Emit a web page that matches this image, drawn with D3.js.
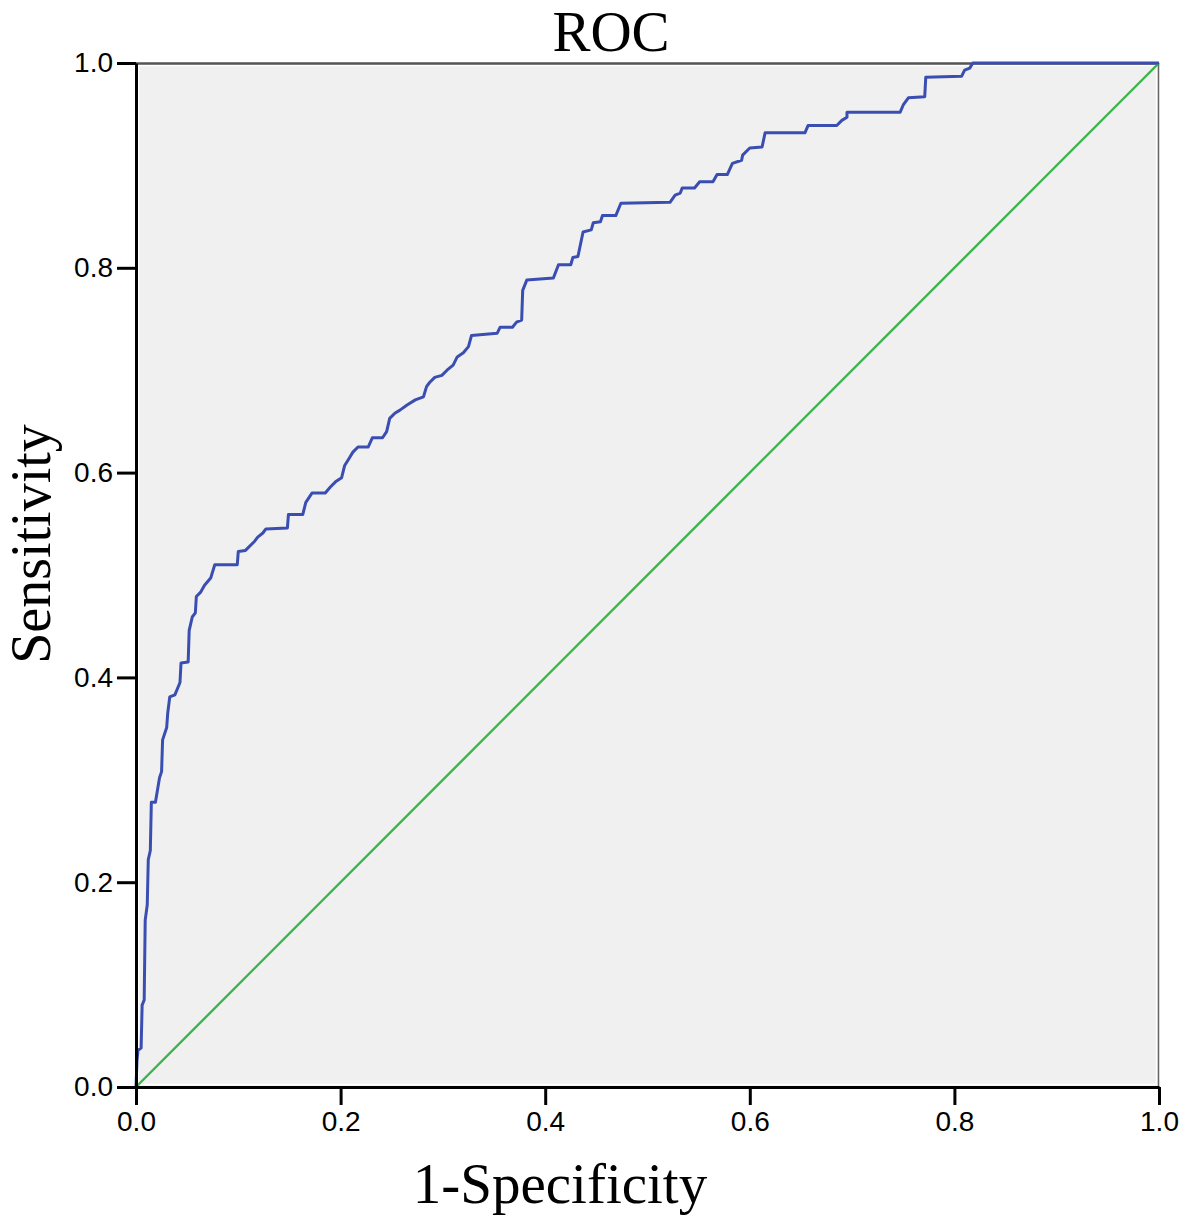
<!DOCTYPE html>
<html>
<head>
<meta charset="utf-8">
<script src="https://cdn.jsdelivr.net/npm/d3@7"></script>
<style>
  body { margin: 0; background: #fff; }
  .tick text { font-family: "Liberation Sans", Arial, sans-serif; font-size: 28px; fill: #000; }
  .lab { font-family: "Liberation Serif", "Times New Roman", serif; fill: #000; }
</style>
</head>
<body>
<div id="chart"></div>
<script>
// ROC curve: false positive rate and sensitivity
const fpr = [0, 0.001, 0.002, 0.005, 0.006, 0.008, 0.009, 0.011, 0.012, 0.014, 0.015, 0.019, 0.021, 0.023,
  0.025, 0.026, 0.030, 0.031, 0.033, 0.038, 0.043, 0.044, 0.051, 0.052, 0.055, 0.058, 0.059, 0.063, 0.067,
  0.073, 0.077, 0.099, 0.100, 0.107, 0.116, 0.119, 0.124, 0.127, 0.148, 0.149, 0.163, 0.166, 0.172, 0.185,
  0.190, 0.195, 0.201, 0.204, 0.209, 0.212, 0.217, 0.227, 0.231, 0.241, 0.245, 0.248, 0.253, 0.258, 0.265,
  0.273, 0.281, 0.284, 0.287, 0.292, 0.299, 0.304, 0.310, 0.314, 0.320, 0.325, 0.328, 0.353, 0.356, 0.368,
  0.372, 0.377, 0.378, 0.382, 0.408, 0.413, 0.425, 0.427, 0.432, 0.437, 0.445, 0.447, 0.454, 0.456, 0.469,
  0.474, 0.522, 0.527, 0.532, 0.534, 0.546, 0.551, 0.564, 0.568, 0.578, 0.583, 0.592, 0.593, 0.600, 0.612,
  0.615, 0.654, 0.657, 0.685, 0.690, 0.695, 0.695, 0.747, 0.750, 0.755, 0.771, 0.772, 0.807, 0.810, 0.815,
  0.818, 1.0];
const tpr = [0, 0.026, 0.036, 0.038, 0.080, 0.085, 0.163, 0.178, 0.222, 0.231, 0.278, 0.278, 0.290, 0.302,
  0.308, 0.339, 0.351, 0.365, 0.381, 0.383, 0.395, 0.414, 0.415, 0.446, 0.459, 0.463, 0.479, 0.483, 0.490,
  0.497, 0.510, 0.510, 0.523, 0.524, 0.533, 0.537, 0.541, 0.545, 0.546, 0.559, 0.559, 0.571, 0.580, 0.580,
  0.586, 0.591, 0.595, 0.607, 0.615, 0.620, 0.625, 0.625, 0.634, 0.634, 0.640, 0.653, 0.658, 0.661, 0.666,
  0.671, 0.674, 0.684, 0.688, 0.693, 0.695, 0.700, 0.705, 0.713, 0.717, 0.723, 0.734, 0.736, 0.742, 0.742,
  0.747, 0.749, 0.778, 0.788, 0.790, 0.803, 0.803, 0.810, 0.811, 0.835, 0.837, 0.844, 0.845, 0.851, 0.851,
  0.863, 0.864, 0.871, 0.873, 0.878, 0.878, 0.884, 0.884, 0.891, 0.891, 0.902, 0.905, 0.910, 0.917, 0.918,
  0.932, 0.932, 0.939, 0.939, 0.944, 0.947, 0.952, 0.952, 0.959, 0.966, 0.967, 0.986, 0.987, 0.993, 0.995,
  1.0, 1.0];
// reference line
const refLine = [0, 1];
const tickVals = [0, 0.2, 0.4, 0.6, 0.8, 1.0];

const W = 1180, H = 1220;
const margin = { top: 63, right: 21, bottom: 133, left: 136 };
const width = W - margin.left - margin.right,
      height = H - margin.top - margin.bottom;

const svg = d3.select("#chart").append("svg")
    .attr("width", W)
    .attr("height", H);

const g = svg.append("g")
    .attr("transform", `translate(${margin.left},${margin.top})`);

const x = d3.scaleLinear().domain([0, 1]).range([0, width]);
const y = d3.scaleLinear().domain([0, 1]).range([height, 0]);

// plot background with a thin white inner border
g.append("rect")
    .attr("width", width).attr("height", height)
    .attr("fill", "#f0f0f0");
g.append("rect")
    .attr("x", 2.5).attr("y", 2.5)
    .attr("width", width - 5).attr("height", height - 5)
    .attr("fill", "none").attr("stroke", "#fff").attr("stroke-width", 1.5);

// top and right frame
g.append("line").attr("x1", 0).attr("x2", width).attr("y1", 0.5).attr("y2", 0.5)
    .attr("stroke", "#555").attr("stroke-width", 2.5);
g.append("line").attr("x1", width - 0.5).attr("x2", width - 0.5).attr("y1", 0).attr("y2", height)
    .attr("stroke", "#666").attr("stroke-width", 1.5);

// diagonal
g.append("line")
    .attr("x1", x(refLine[0])).attr("y1", y(refLine[0]))
    .attr("x2", x(refLine[1])).attr("y2", y(refLine[1]))
    .attr("stroke", "#3cb44b").attr("stroke-width", 2.4);

// ROC curve
const line = d3.line()
    .x((d, i) => x(fpr[i]))
    .y((d, i) => y(tpr[i]));
g.append("path")
    .datum(fpr)
    .attr("d", line)
    .attr("fill", "none")
    .attr("stroke", "#3a4eb2")
    .attr("stroke-width", 3)
    .attr("stroke-linejoin", "round");

// axes
const fmt = d3.format(".1f");
const xAxis = g.append("g")
    .attr("transform", `translate(0,${height})`)
    .call(d3.axisBottom(x).tickValues(tickVals).tickFormat(fmt).tickSize(18).tickSizeOuter(0).tickPadding(6));
const yAxis = g.append("g")
    .call(d3.axisLeft(y).tickValues(tickVals).tickFormat(fmt).tickSize(19).tickSizeOuter(0).tickPadding(4));
[xAxis, yAxis].forEach(a => {
    a.select(".domain").attr("stroke", "#000").attr("stroke-width", 3);
    a.selectAll(".tick line").attr("stroke", "#000").attr("stroke-width", 3);
});

// titles
svg.append("text").attr("class", "lab")
    .attr("x", 611).attr("y", 51)
    .attr("text-anchor", "middle")
    .attr("font-size", 57)
    .text("ROC");
svg.append("text").attr("class", "lab")
    .attr("x", 560).attr("y", 1203)
    .attr("text-anchor", "middle")
    .attr("font-size", 57)
    .text("1-Specificity");
svg.append("text").attr("class", "lab")
    .attr("transform", "translate(50,544) rotate(-90)")
    .attr("text-anchor", "middle")
    .attr("font-size", 56)
    .text("Sensitivity");
</script>
</body>
</html>
